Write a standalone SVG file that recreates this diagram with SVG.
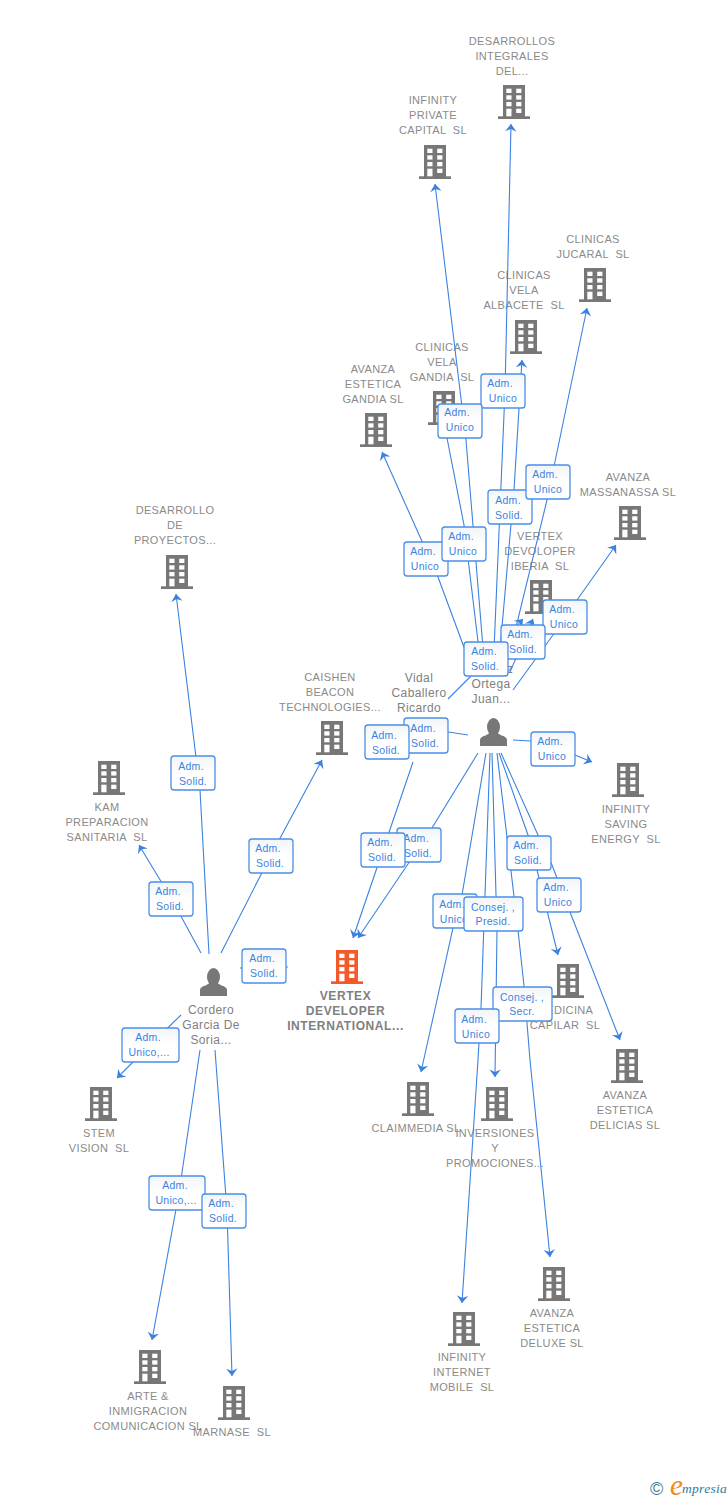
<svg xmlns="http://www.w3.org/2000/svg" width="728" height="1500" viewBox="0 0 728 1500">
<style>
text{font-family:"Liberation Sans",Arial,sans-serif;white-space:pre}
.n{font-size:11px;fill:#8a8a8a;text-anchor:middle;letter-spacing:.35px}
.m{font-weight:bold;font-size:12px;letter-spacing:.6px;fill:#808080}
.p{font-size:12px;fill:#808080;text-anchor:middle;letter-spacing:.4px}
.l{fill:none;stroke:#3b82e0;stroke-width:1.1}
.a{marker-end:url(#ah)}
.b{fill:url(#bg);stroke:#4a8fe6;stroke-width:1.3}
.t{font-size:10.5px;fill:#3b82e0;text-anchor:middle;letter-spacing:.3px}
</style>
<defs>
<linearGradient id="bg" x1="0" y1="0" x2="0" y2="1"><stop offset="0" stop-color="#f2f4f7"/><stop offset=".5" stop-color="#fff"/></linearGradient>
<marker id="ah" markerUnits="userSpaceOnUse" markerWidth="12" markerHeight="12" viewBox="0 0 12 12" refX="11" refY="6" orient="auto"><path d="M11,6 L3.5,0.3 L6,6 L3.5,11.7 z" fill="#3b82e0"/></marker>
<g id="bld">
<rect x="-11" y="0" width="22" height="32"/><rect x="-16" y="31.3" width="32" height="2.7"/>
<g fill="#fff"><rect x="-7.7" y="3.7" width="5.2" height="4.3"/><rect x="2.2" y="3.7" width="5.2" height="4.3"/><rect x="-7.7" y="10.3" width="5.2" height="4.3"/><rect x="2.2" y="10.3" width="5.2" height="4.3"/><rect x="-7.7" y="17" width="5.2" height="4.3"/><rect x="2.2" y="17" width="5.2" height="4.3"/><rect x="-7.7" y="23.7" width="5.2" height="7.6"/><rect x="2.2" y="23.7" width="5.2" height="4.3"/></g>
</g>
<g id="per"><ellipse cx="0" cy="9" rx="6.5" ry="9"/><path d="M-13.5,28V22Q-13.5,19-8,17.5L-3,14.5H3L8,17.5Q13.5,19 13.5,22V28z"/></g>
</defs>
<rect width="728" height="1500" fill="#fff"/>
<g id="nodes">
<g id="n1" fill="#777"><use href="#bld" x="514" y="85"/><text class="n"><tspan x="512" y="45">DESARROLLOS</tspan><tspan x="512" y="60">INTEGRALES</tspan><tspan x="512" y="75">DEL...</tspan></text></g>
<g id="n2" fill="#777"><use href="#bld" x="435" y="145"/><text class="n"><tspan x="433" y="104">INFINITY</tspan><tspan x="433" y="119">PRIVATE</tspan><tspan x="433" y="134">CAPITAL  SL</tspan></text></g>
<g id="n3" fill="#777"><use href="#bld" x="595" y="268"/><text class="n"><tspan x="593" y="243">CLINICAS</tspan><tspan x="593" y="258">JUCARAL  SL</tspan></text></g>
<g id="n4" fill="#777"><use href="#bld" x="526" y="320"/><text class="n"><tspan x="524" y="279">CLINICAS</tspan><tspan x="524" y="294">VELA</tspan><tspan x="524" y="309">ALBACETE  SL</tspan></text></g>
<g id="n5" fill="#777"><use href="#bld" x="444" y="391"/><text class="n"><tspan x="442" y="351">CLINICAS</tspan><tspan x="442" y="366">VELA</tspan><tspan x="442" y="381">GANDIA  SL</tspan></text></g>
<g id="n6" fill="#777"><use href="#bld" x="376" y="413"/><text class="n"><tspan x="373" y="373">AVANZA</tspan><tspan x="373" y="388">ESTETICA</tspan><tspan x="373" y="403">GANDIA SL</tspan></text></g>
<g id="n7" fill="#777"><use href="#bld" x="630" y="506"/><text class="n"><tspan x="628" y="481">AVANZA</tspan><tspan x="628" y="496">MASSANASSA SL</tspan></text></g>
<g id="n8" fill="#777"><use href="#bld" x="541" y="580"/><text class="n"><tspan x="540" y="540">VERTEX</tspan><tspan x="540" y="555">DEVOLOPER</tspan><tspan x="540" y="570">IBERIA  SL</tspan></text></g>
<g id="n9" fill="#777"><use href="#bld" x="177" y="555"/><text class="n"><tspan x="175" y="514">DESARROLLO</tspan><tspan x="175" y="529">DE</tspan><tspan x="175" y="544">PROYECTOS...</tspan></text></g>
<g id="n10" fill="#777"><use href="#bld" x="332" y="721"/><text class="n"><tspan x="330" y="681">CAISHEN</tspan><tspan x="330" y="696">BEACON</tspan><tspan x="330" y="711">TECHNOLOGIES...</tspan></text></g>
<g id="n11" fill="#777"><use href="#bld" x="109" y="761"/><text class="n"><tspan x="107" y="811">KAM</tspan><tspan x="107" y="826">PREPARACION</tspan><tspan x="107" y="841">SANITARIA  SL</tspan></text></g>
<g id="n12" fill="#777"><use href="#bld" x="628" y="763"/><text class="n"><tspan x="626" y="813">INFINITY</tspan><tspan x="626" y="828">SAVING</tspan><tspan x="626" y="843">ENERGY  SL</tspan></text></g>
<g id="vertex" fill="#f4592a"><use href="#bld" x="347" y="950"/><text class="n m"><tspan x="345.500" y="1000">VERTEX</tspan><tspan x="345.500" y="1015">DEVELOPER</tspan><tspan x="345.500" y="1030">INTERNATIONAL...</tspan></text></g>
<g id="n14" fill="#777"><use href="#bld" x="568" y="964"/><text class="n"><tspan x="565" y="1014">MEDICINA</tspan><tspan x="565" y="1029">CAPILAR  SL</tspan></text></g>
<g id="n15" fill="#777"><use href="#bld" x="627" y="1049"/><text class="n"><tspan x="625" y="1099">AVANZA</tspan><tspan x="625" y="1114">ESTETICA</tspan><tspan x="625" y="1129">DELICIAS SL</tspan></text></g>
<g id="n16" fill="#777"><use href="#bld" x="101" y="1087"/><text class="n"><tspan x="99" y="1137">STEM</tspan><tspan x="99" y="1152">VISION  SL</tspan></text></g>
<g id="n17" fill="#777"><use href="#bld" x="418" y="1082"/><text class="n"><tspan x="416" y="1132">CLAIMMEDIA SL</tspan></text></g>
<g id="n18" fill="#777"><use href="#bld" x="497" y="1087"/><text class="n"><tspan x="495" y="1137">INVERSIONES</tspan><tspan x="495" y="1152">Y</tspan><tspan x="495" y="1167">PROMOCIONES...</tspan></text></g>
<g id="n19" fill="#777"><use href="#bld" x="554" y="1267"/><text class="n"><tspan x="552" y="1317">AVANZA</tspan><tspan x="552" y="1332">ESTETICA</tspan><tspan x="552" y="1347">DELUXE SL</tspan></text></g>
<g id="n20" fill="#777"><use href="#bld" x="464" y="1312"/><text class="n"><tspan x="462" y="1361">INFINITY</tspan><tspan x="462" y="1376">INTERNET</tspan><tspan x="462" y="1391">MOBILE  SL</tspan></text></g>
<g id="n21" fill="#777"><use href="#bld" x="150" y="1350"/><text class="n"><tspan x="148" y="1400">ARTE &amp;</tspan><tspan x="148" y="1415">INMIGRACION</tspan><tspan x="148" y="1430">COMUNICACION SL</tspan></text></g>
<g id="n22" fill="#777"><use href="#bld" x="234" y="1386"/><text class="n"><tspan x="232" y="1436">MARNASE  SL</tspan></text></g>
<g id="p1" fill="#777"><use href="#per" x="493.5" y="718"/><text class="p"><tspan x="419" y="682">Vidal</tspan><tspan x="419" y="697">Caballero</tspan><tspan x="419" y="712">Ricardo</tspan></text></g>
<g id="p2"><text class="p"><tspan x="510" y="673">z</tspan><tspan x="491" y="688">Ortega</tspan><tspan x="491" y="703">Juan...</tspan></text></g>
<g id="p3" fill="#777"><use href="#per" x="213.5" y="968"/><text class="p"><tspan x="211" y="1014">Cordero</tspan><tspan x="211" y="1029">Garcia De</tspan><tspan x="211" y="1044">Soria...</tspan></text></g>
</g>
<g id="connectors">
<path class="l a" d="M494,650L505,391L511,124"/>
<path class="l a" d="M500,650L514,490L522,360"/>
<path class="l a" d="M508,660L547,500L587,308"/>
<path class="l a" d="M484,660L466,440L435,184"/>
<path class="l" d="M479,650L464,525L447,438L444,425"/>
<path class="l a" d="M465,650L438,577L382,452"/>
<path class="l a" d="M513,690L553,635L577,600L616,545"/>
<path class="l a" d="M448,699L470,677L523,619"/>
<path class="l a" d="M510,672L533,619"/>
<path class="l a" d="M413,762L383,850L353,938"/>
<path class="l a" d="M478,753L432,828L408,864L358,938"/>
<path class="l a" d="M513,740L531,741L575,755L592,762"/>
<path class="l" d="M468,735L448,732L430,731"/>
<path class="l a" d="M486,753L462,895L453,928L421,1072"/>
<path class="l a" d="M490,753L481,1008L478,1060L462,1303"/>
<path class="l a" d="M492,753L497,930L495,1077"/>
<path class="l a" d="M497,753L518,930L524,986L530,1060L550,1257"/>
<path class="l a" d="M499,753L528,835L537,870L558,955"/>
<path class="l a" d="M501,753L538,835L552,865L570,912L620,1040"/>
<path class="l a" d="M209,954L200,790L176,594"/>
<path class="l a" d="M201,953L171,898L139,845"/>
<path class="l a" d="M221,953L271,855L322,760"/>
<path class="l" d="M240,968L288,967"/>
<path class="l a" d="M181,1015L150,1045L117,1078"/>
<path class="l a" d="M200,1050L179,1193L152,1340"/>
<path class="l a" d="M215,1050L227,1211L232,1376"/>
</g>
<g id="labels">
<g id="b1"><rect class="b" x="481" y="374" width="44" height="34" rx="3"/><text class="t"><tspan x="500" y="387">Adm.</tspan><tspan x="503" y="402">Unico</tspan></text></g>
<g id="b2"><rect class="b" x="438" y="404" width="44" height="34" rx="3"/><text class="t"><tspan x="457" y="416">Adm.</tspan><tspan x="460" y="431">Unico</tspan></text></g>
<g id="b3"><rect class="b" x="488" y="490" width="44" height="34" rx="3"/><text class="t"><tspan x="508" y="504">Adm.</tspan><tspan x="509" y="519">Solid.</tspan></text></g>
<g id="b4"><rect class="b" x="526" y="465" width="44" height="34" rx="3"/><text class="t"><tspan x="545" y="478">Adm.</tspan><tspan x="548" y="493">Unico</tspan></text></g>
<g id="b5"><rect class="b" x="404" y="542" width="44" height="34" rx="3"/><text class="t"><tspan x="423" y="555">Adm.</tspan><tspan x="425" y="570">Unico</tspan></text></g>
<g id="b6"><rect class="b" x="442" y="527" width="44" height="34" rx="3"/><text class="t"><tspan x="461" y="540">Adm.</tspan><tspan x="463" y="555">Unico</tspan></text></g>
<g id="b7"><rect class="b" x="543" y="600" width="44" height="34" rx="3"/><text class="t"><tspan x="562" y="613">Adm.</tspan><tspan x="564" y="628">Unico</tspan></text></g>
<g id="b8"><rect class="b" x="501" y="625" width="44" height="34" rx="3"/><text class="t"><tspan x="520" y="638">Adm.</tspan><tspan x="523" y="653">Solid.</tspan></text></g>
<g id="b9"><rect class="b" x="464" y="642" width="44" height="34" rx="3"/><text class="t"><tspan x="484" y="655">Adm.</tspan><tspan x="485" y="670">Solid.</tspan></text></g>
<g id="b10"><rect class="b" x="404" y="718" width="44" height="35" rx="3"/><text class="t"><tspan x="423" y="732">Adm.</tspan><tspan x="425" y="747">Solid.</tspan></text></g>
<g id="b11"><rect class="b" x="365" y="725" width="44" height="34" rx="3"/><text class="t"><tspan x="384" y="739">Adm.</tspan><tspan x="386" y="754">Solid.</tspan></text></g>
<g id="b12"><rect class="b" x="531" y="732" width="44" height="34" rx="3"/><text class="t"><tspan x="550" y="745">Adm.</tspan><tspan x="552" y="760">Unico</tspan></text></g>
<g id="b13"><rect class="b" x="397" y="828" width="44" height="34" rx="3"/><text class="t"><tspan x="416" y="842">Adm.</tspan><tspan x="418" y="857">Solid.</tspan></text></g>
<g id="b14"><rect class="b" x="361" y="833" width="44" height="34" rx="3"/><text class="t"><tspan x="380" y="846">Adm.</tspan><tspan x="382" y="861">Solid.</tspan></text></g>
<g id="b15"><rect class="b" x="507" y="836" width="44" height="34" rx="3"/><text class="t"><tspan x="526" y="849">Adm.</tspan><tspan x="528" y="864">Solid.</tspan></text></g>
<g id="b16"><rect class="b" x="537" y="878" width="44" height="34" rx="3"/><text class="t"><tspan x="556" y="891">Adm.</tspan><tspan x="558" y="906">Unico</tspan></text></g>
<g id="b17"><rect class="b" x="433" y="894" width="44" height="34" rx="3"/><text class="t"><tspan x="452" y="908">Adm.</tspan><tspan x="454" y="923">Unico</tspan></text></g>
<g id="b18"><rect class="b" x="464" y="897" width="59" height="34" rx="3"/><text class="t"><tspan x="493" y="911">Consej. ,</tspan><tspan x="493" y="925">Presid.</tspan></text></g>
<g id="b19"><rect class="b" x="493" y="987" width="59" height="34" rx="3"/><text class="t"><tspan x="522" y="1001">Consej. ,</tspan><tspan x="522" y="1015">Secr.</tspan></text></g>
<g id="b20"><rect class="b" x="455" y="1009" width="44" height="34" rx="3"/><text class="t"><tspan x="474" y="1023">Adm.</tspan><tspan x="476" y="1038">Unico</tspan></text></g>
<g id="b21"><rect class="b" x="171" y="756" width="44" height="34" rx="3"/><text class="t"><tspan x="191" y="770">Adm.</tspan><tspan x="193" y="785">Solid.</tspan></text></g>
<g id="b22"><rect class="b" x="149" y="882" width="44" height="34" rx="3"/><text class="t"><tspan x="168" y="895">Adm.</tspan><tspan x="170" y="910">Solid.</tspan></text></g>
<g id="b23"><rect class="b" x="249" y="839" width="44" height="34" rx="3"/><text class="t"><tspan x="268" y="852">Adm.</tspan><tspan x="270" y="867">Solid.</tspan></text></g>
<g id="b24"><rect class="b" x="242" y="949" width="44" height="34" rx="3"/><text class="t"><tspan x="262" y="962">Adm.</tspan><tspan x="264" y="977">Solid.</tspan></text></g>
<g id="b25"><rect class="b" x="122" y="1028" width="57" height="34" rx="3"/><text class="t"><tspan x="148" y="1041">Adm.</tspan><tspan x="149" y="1056">Unico,...</tspan></text></g>
<g id="b26"><rect class="b" x="149" y="1176" width="56" height="34" rx="3"/><text class="t"><tspan x="175" y="1189">Adm.</tspan><tspan x="176" y="1204">Unico,...</tspan></text></g>
<g id="b27"><rect class="b" x="202" y="1194" width="44" height="34" rx="3"/><text class="t"><tspan x="221" y="1207">Adm.</tspan><tspan x="223" y="1222">Solid.</tspan></text></g>
</g>
<g id="logo">
<text x="650" y="1495" font-size="18" fill="#3d7f96">©</text>
<text x="670" y="1495" font-size="29" fill="#f28a1c" style="font-family:'Liberation Serif',serif;font-style:italic">e</text>
<text x="682" y="1493" font-size="13.5" fill="#2f7a96" style="font-family:'Liberation Serif',serif;font-style:italic;letter-spacing:.3px">mpresia</text>
</g>
</svg>
